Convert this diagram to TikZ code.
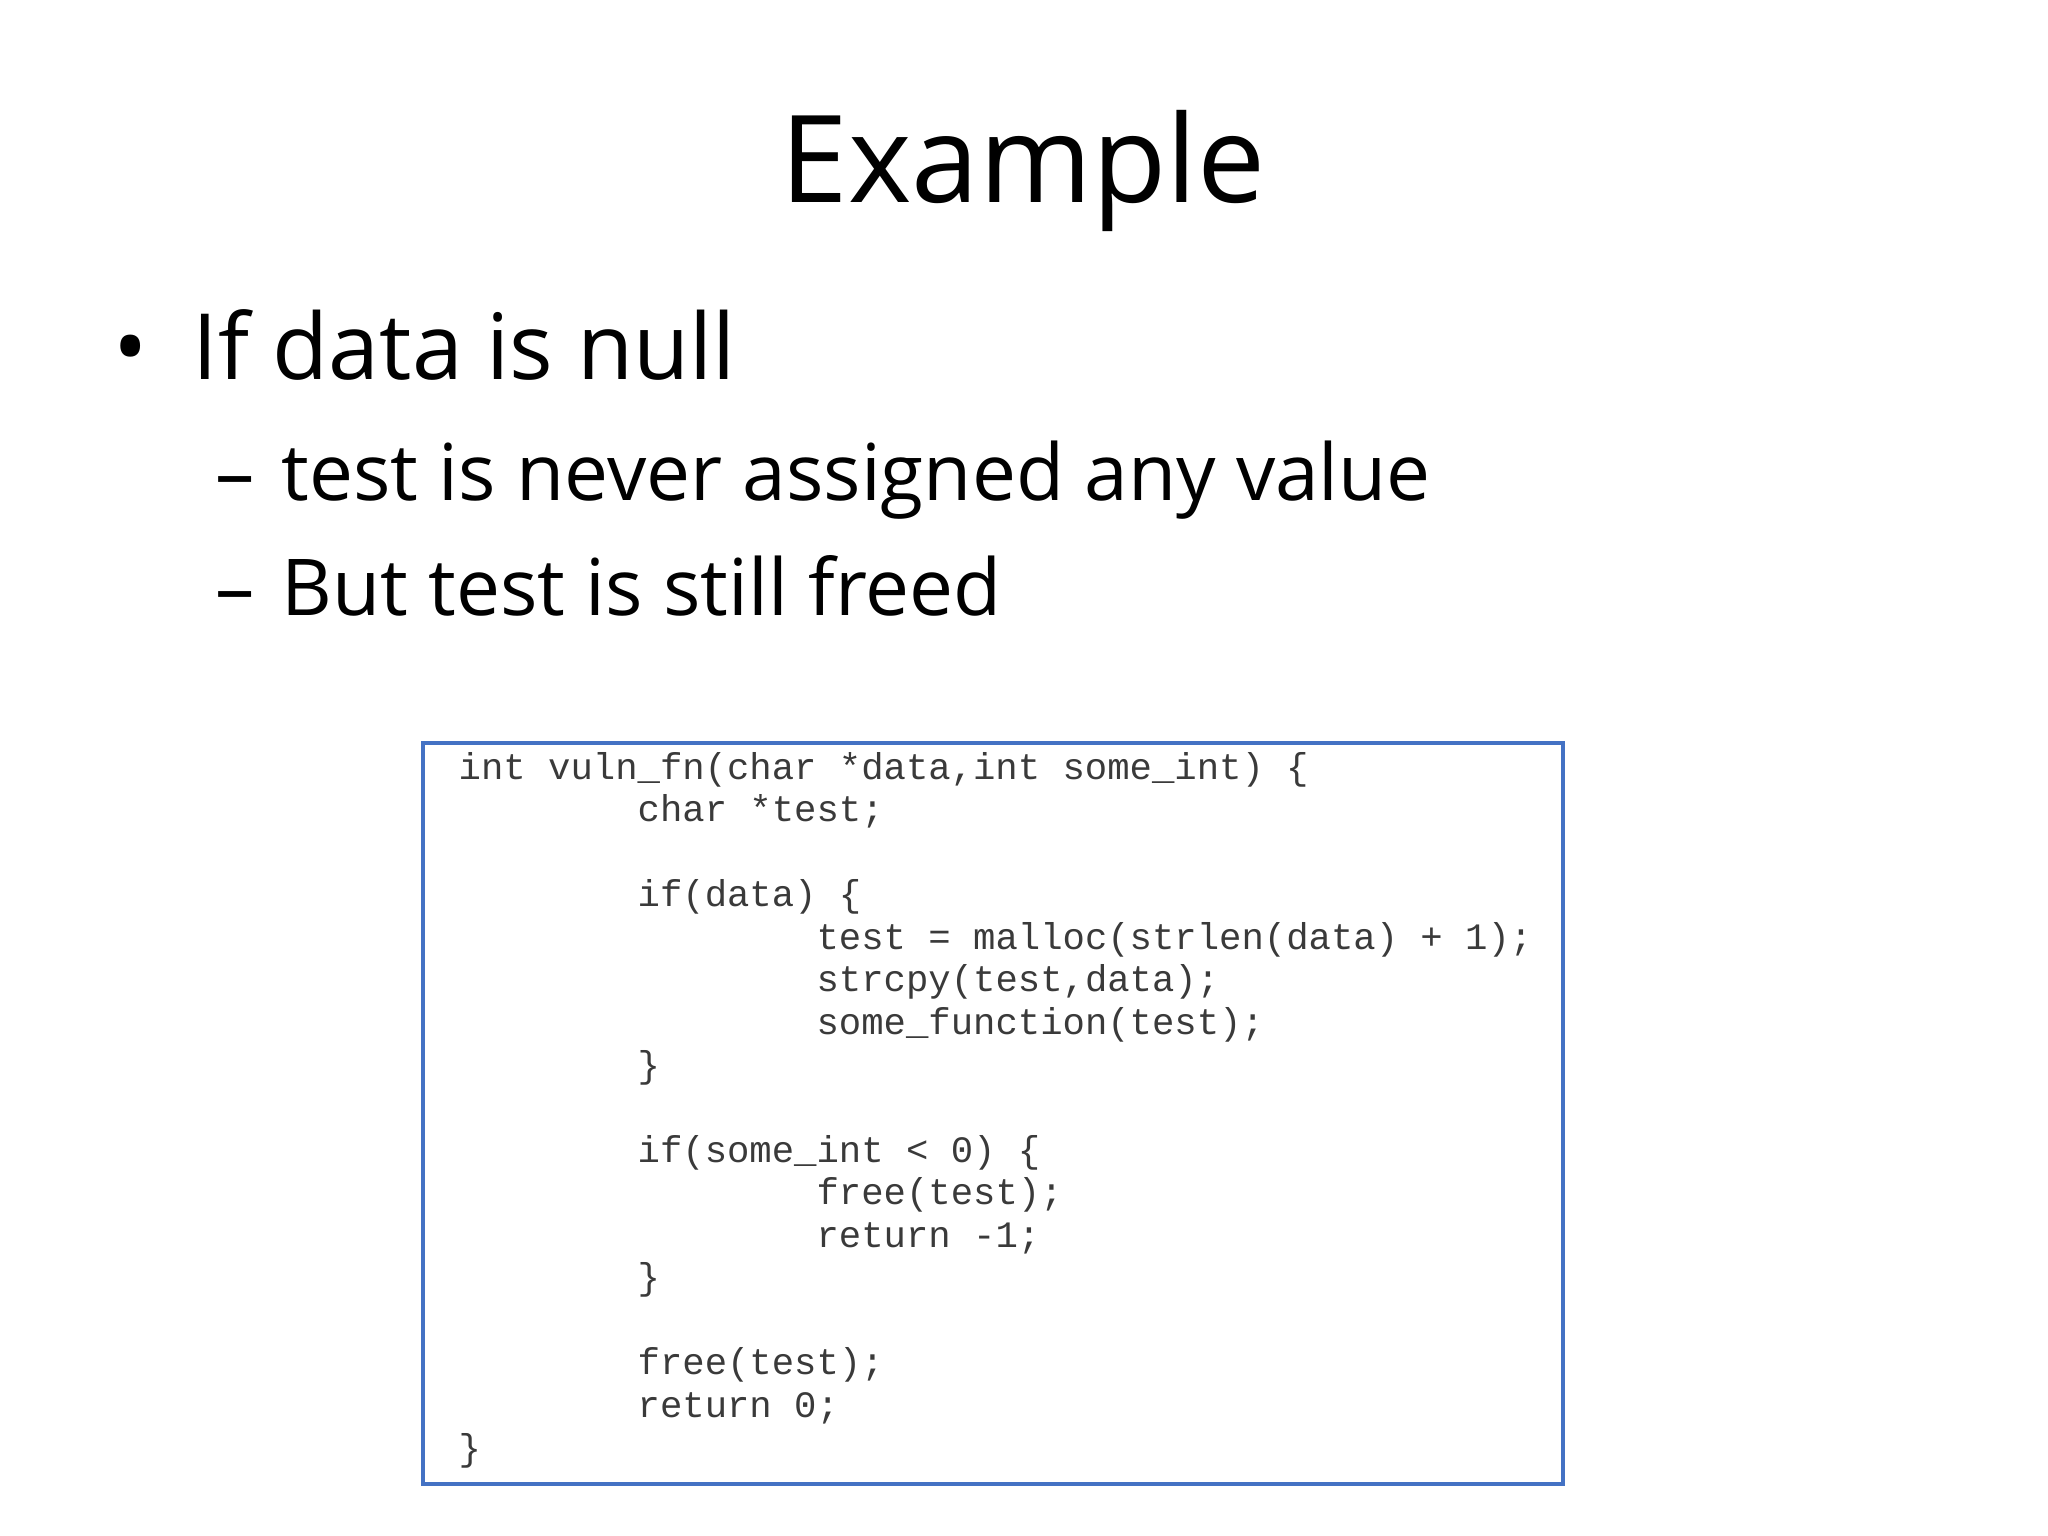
\documentclass[tikz,border=0pt]{standalone}
\usepackage{fontspec}
\setmainfont{Open Sans}
\newfontfamily\codefont{Liberation Mono}
\definecolor{boxblue}{HTML}{4472C4}
\definecolor{codegray}{HTML}{3A3A3A}
\newcommand\tabi{\ \ \ \ \ \ \ \ }
\begin{document}
\begin{tikzpicture}[x=0.01cm,y=-0.01cm,
  txt/.style={inner sep=0pt,anchor=base west},
  codebox/.style={draw=boxblue,line width=1.3pt}]
\useasboundingbox (0,0) rectangle (2048,1536);
\node[inner sep=0pt,anchor=base,font=\fontsize{34.5}{40}\selectfont] (title) at (1023,202) {Example};
\node[txt,font=\fontsize{26}{30}\selectfont] (b1) at (113,379) {•};
\node[txt,font=\fontsize{26}{30}\selectfont] (t1) at (192,379) {If data is null};
\node[txt,font=\fontsize{22.3}{26}\selectfont] (d1) at (215,500) {–};
\node[txt,font=\fontsize{22.3}{26}\selectfont] (s1) at (281,500) {test is never assigned any value};
\node[txt,font=\fontsize{22.3}{26}\selectfont] (d2) at (215,615) {–};
\node[txt,font=\fontsize{22.3}{26}\selectfont] (s2) at (281,615) {But test is still freed};
\draw[codebox] (423,743) rectangle (1563,1484);
\node[txt,align=left,text=codegray,font=\codefont\fontsize{10.6}{12.1}\selectfont] (code) at (458,1460) {%
int vuln\_fn(char *data,int some\_int) \{\\
\tabi char *test;\\
\mbox{}\\
\tabi if(data) \{\\
\tabi\tabi test = malloc(strlen(data) + 1);\\
\tabi\tabi strcpy(test,data);\\
\tabi\tabi some\_function(test);\\
\tabi \}\\
\mbox{}\\
\tabi if(some\_int < 0) \{\\
\tabi\tabi free(test);\\
\tabi\tabi return -1;\\
\tabi \}\\
\mbox{}\\
\tabi free(test);\\
\tabi return 0;\\
\}};
\end{tikzpicture}
\end{document}
